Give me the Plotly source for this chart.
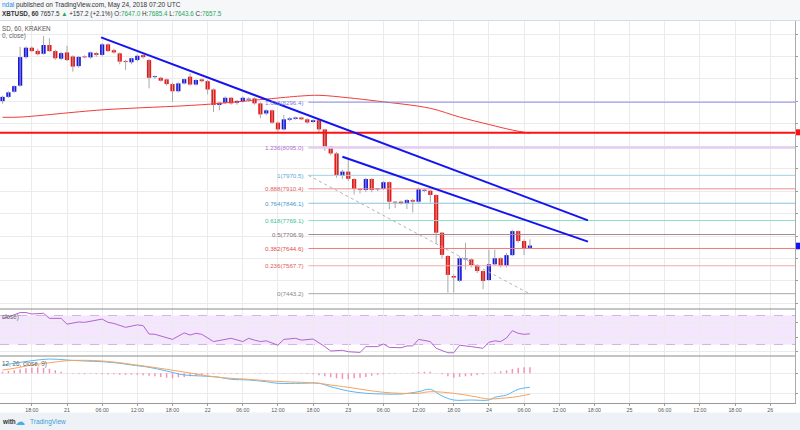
import plotly.graph_objects as go
from plotly.subplots import make_subplots
import pandas as pd

# ---------------- data ----------------
start_time = "2018-05-20 13:00"
opens = [8301, 8320, 8343, 8370, 8497, 8539, 8525, 8512, 8551, 8524,
         8490, 8518, 8500, 8457, 8500, 8496, 8515, 8507, 8554, 8528,
         8514, 8479, 8474, 8484, 8506, 8484, 8408, 8405, 8398, 8377,
         8345, 8380, 8410, 8375, 8398, 8390, 8353, 8284, 8294, 8316,
         8294, 8300, 8308, 8313, 8291, 8246, 8260, 8205, 8175, 8218,
         8222, 8228, 8220, 8208, 8216, 8175, 8098, 8068, 7968, 7987,
         7954, 7910, 7905, 7954, 7908, 7910, 7940, 7852, 7853, 7846,
         7860, 7853, 7902, 7902, 7883, 7715, 7611, 7522, 7501, 7596,
         7596, 7571, 7544, 7504, 7574, 7601, 7568, 7615, 7722, 7678,
         7647.0]
highs = [8325, 8345, 8372, 8543, 8545, 8545, 8535, 8591, 8581, 8530,
         8522, 8548, 8505, 8502, 8505, 8522, 8520, 8560, 8558, 8535,
         8518, 8485, 8495, 8508, 8510, 8490, 8415, 8410, 8402, 8382,
         8385, 8402, 8425, 8400, 8402, 8395, 8358, 8298, 8322, 8320,
         8306, 8322, 8318, 8318, 8296, 8265, 8264, 8210, 8240, 8230,
         8232, 8232, 8225, 8220, 8220, 8178, 8102, 8075, 7995, 8045,
         7958, 7915, 7960, 7958, 7915, 7945, 7944, 7856, 7858, 7865,
         7865, 7915, 7912, 7906, 7886, 7718, 7615, 7530, 7610, 7670,
         7600, 7575, 7548, 7640, 7640, 7605, 7625, 7728, 7725, 7685,
         7685.4]
lows = [8290, 8315, 8338, 8365, 8490, 8520, 8505, 8508, 8520, 8485,
        8483, 8480, 8432, 8450, 8492, 8490, 8498, 8500, 8520, 8512,
        8465, 8440, 8465, 8478, 8490, 8358, 8400, 8388, 8370, 8298,
        8340, 8375, 8370, 8370, 8385, 8331, 8252, 8260, 8288, 8285,
        8285, 8295, 8300, 8285, 8225, 8238, 8200, 8165, 8170, 8212,
        8218, 8216, 8200, 8203, 8160, 8080, 8060, 7960, 7955, 7945,
        7885, 7890, 7895, 7895, 7900, 7905, 7820, 7825, 7840, 7820,
        7805, 7848, 7895, 7850, 7665, 7600, 7448, 7448, 7495, 7550,
        7560, 7535, 7463, 7500, 7570, 7560, 7560, 7610, 7670, 7615,
        7643.6]
closes = [8320, 8340, 8368, 8497, 8539, 8524, 8510, 8551, 8524, 8492,
          8515, 8484, 8455, 8498, 8496, 8518, 8507, 8554, 8524, 8518,
          8477, 8475, 8492, 8503, 8497, 8405, 8411, 8392, 8377, 8345,
          8380, 8399, 8375, 8395, 8390, 8353, 8284, 8294, 8316, 8291,
          8302, 8316, 8310, 8291, 8242, 8260, 8205, 8175, 8220, 8224,
          8228, 8220, 8206, 8216, 8175, 8098, 8068, 7972, 7987, 7955,
          7910, 7906, 7954, 7905, 7910, 7940, 7853, 7849, 7846, 7860,
          7853, 7908, 7905, 7883, 7715, 7616, 7527, 7515, 7601, 7598,
          7571, 7544, 7500, 7574, 7601, 7568, 7615, 7722, 7678, 7645,
          7657.5]

# moving average (candle index, value)
ma_idx = [0, 3, 17, 34, 45, 51, 54, 59, 64, 73, 78, 83, 87, 90]
ma_val = [8229, 8230, 8262, 8285, 8310, 8324, 8327, 8316, 8301, 8269, 8230, 8197, 8172, 8158]

# horizontal resistance line
resistance_level = [8160]

# trend lines (drawings)
trend_long_t = ["2018-05-21 05:49", "2018-05-24 16:54"]
trend_long_p = [8585, 7770]
trend_short_t = ["2018-05-22 23:00", "2018-05-24 16:54"]
trend_short_p = [8053, 7675]
fib_anchor_t = ["2018-05-22 17:12", "2018-05-24 06:54"]
fib_anchor_p = [7970.5, 7443.2]

# fibonacci levels
fib_ratio = ["1.618", "1.236", "1", "0.888", "0.764", "0.618", "0.5", "0.382", "0.236", "0"]
fib_price = [8296.4, 8095.0, 7970.5, 7910.4, 7846.1, 7769.1, 7706.9, 7644.6, 7567.7, 7443.2]
fib_line_color = ["#8c8ce8", "#e4ccf2", "#a8cfe2", "#f28c8c", "#8cc4dc", "#8fe0c2",
                  "#a88898", "#f27a7a", "#f5abab", "#a8a8a8"]
fib_text_color = ["#7b7bd9", "#b070d0", "#5fa8d3", "#e05c5c", "#4a9bc6", "#3cbf90",
                  "#8a6a7a", "#e05050", "#e05c5c", "#888888"]
fib_line_width = [1, 2.5, 1, 1, 1, 1, 1, 1, 1, 1]

# RSI (candle index, value)
rsi_idx = [0, 1, 3, 4, 5, 7, 8, 10, 11, 13, 14, 15, 17, 18, 19, 21, 23, 24, 25, 26,
           29, 31, 32, 33, 34, 36, 38, 39, 41, 42, 43, 44, 45, 47, 48, 50, 51, 53,
           55, 56, 58, 59, 61, 62, 64, 65, 66, 68, 69, 70, 71, 73, 74, 76, 77, 78,
           80, 82, 83, 84, 85, 86, 87, 88, 89, 90]
rsi_val = [66, 68, 74, 74, 72, 73, 66, 66, 58, 61, 60.5, 62, 65, 60.5, 59, 53.6, 57, 56, 44.4, 44,
           37, 46, 43, 45.4, 44, 34, 37, 38.5, 34, 38.5, 36, 34, 35, 29, 37, 38.5, 36, 37.5,
           27, 21, 22, 20, 19, 27, 27, 30.6, 26, 25.5, 28, 28, 37, 34, 24.7, 18.6, 18.6, 29,
           27, 24.7, 33, 35, 34, 39, 49, 45.4, 44, 44.7]

# MACD (candle index, value)
macd_idx = [0, 2, 5, 8, 11, 14, 17, 20, 22, 25, 28, 31, 34, 37, 39, 42, 45, 47, 51, 54,
            56, 59, 62, 65, 68, 71, 73, 75, 77, 80, 83, 84, 86, 88, 90]
macd_val = [41.5, 50, 63, 71.5, 66.5, 61.5, 58, 50, 41.5, 30, 11.5, -8.5, -13.5, -20, -30, -33.5,
            -42, -50, -50, -50, -67, -88.5, -100, -103.5, -103.5, -92, -80, -113.5, -133.5,
            -133.5, -133.5, -120, -108.5, -80, -70]
signal_idx = [0, 2, 5, 8, 11, 14, 17, 20, 22, 25, 28, 31, 34, 37, 39, 42, 45, 48, 51, 54,
              56, 59, 62, 65, 68, 71, 73, 77, 80, 83, 85, 87, 90]
signal_val = [16.5, 25, 41.5, 53, 63, 65, 61.5, 53, 45, 33, 20, 6.5, -8.5, -20, -25, -30, -37,
              -42, -45, -50, -58.5, -70, -83.5, -95, -100, -100, -92, -100, -113.5, -128.5,
              -125, -120, -105]
hist_val = [8, 12, 15, 20, 25, 28, 30, 27, 22, 15,
            8, 2, -2, -4, -5, -3, -4, -5, -6, -5,
            -7, -8, -7, -8, -10, -12, -15, -18, -22, -25,
            -20, -18, -15, -13, -10, -6, -4, -3, -2, -2,
            -3, -2, -1, -2, -3, -2, -1, 0, 1, 0,
            -1, -2, -3, -5, -10, -15, -20, -25, -28, -30,
            -25, -22, -18, -12, -8, -5, -3, -2, -1, 1,
            3, 6, 8, 8, 2, -5, -15, -22, -18, -15,
            -12, -8, -5, 0, 5, 10, 15, 22, 28, 30,
            30]

# time axis ticks
tick_times = pd.date_range("2018-05-20 18:00", "2018-05-26 00:00", freq="6h")
tick_text = [t.strftime("%d").lstrip("0") if t.hour == 0 else t.strftime("%H:%M") for t in tick_times]
x_range = ["2018-05-20 12:34", "2018-05-26 04:14"]

# ---------------- figure ----------------
times = pd.date_range(start_time, periods=len(opens), freq="h")
UP, DN = "#1818e6", "#ee1515"
FONT = "Arial, Liberation Sans, sans-serif"

fig = make_subplots(rows=3, cols=1, shared_xaxes=True, vertical_spacing=0,
                    row_heights=[288, 47, 47])

# wicks
wx, wy = [], []
for t, h, l in zip(times, highs, lows):
    wx += [t, t, None]
    wy += [l, h, None]
fig.add_trace(go.Scatter(x=wx, y=wy, mode="lines", line=dict(color="#a9a9a9", width=1),
                         hoverinfo="skip"), row=1, col=1)
# bodies
body_base = [min(o, c) for o, c in zip(opens, closes)]
body_h = [max(abs(c - o), 4) for o, c in zip(opens, closes)]
body_col = [UP if c >= o else DN for o, c in zip(opens, closes)]
fig.add_trace(go.Bar(x=times, y=body_h, base=body_base, marker=dict(color=body_col, line=dict(width=0)),
                     width=2.6e6), row=1, col=1)

# MA
fig.add_trace(go.Scatter(x=[times[i] for i in ma_idx], y=ma_val, mode="lines",
                         line=dict(color="#f23b3b", width=1), line_shape="spline"), row=1, col=1)

# fib lines
for p, c, w in zip(fib_price, fib_line_color, fib_line_width):
    fig.add_trace(go.Scatter(x=[fib_anchor_t[0], "2018-05-27 00:00"], y=[p, p], mode="lines",
                             line=dict(color=c, width=w)), row=1, col=1)
# fib diagonal
fig.add_trace(go.Scatter(x=fib_anchor_t, y=fib_anchor_p, mode="lines",
                         line=dict(color="#b4b4b4", width=1, dash="dot")), row=1, col=1)
# resistance
fig.add_trace(go.Scatter(x=["2018-05-20 00:00", "2018-05-27 00:00"], y=resistance_level * 2, mode="lines",
                         line=dict(color="#ff1010", width=2)), row=1, col=1)
# trend lines
fig.add_trace(go.Scatter(x=trend_long_t, y=trend_long_p, mode="lines",
                         line=dict(color="#1414f0", width=2)), row=1, col=1)
fig.add_trace(go.Scatter(x=trend_short_t, y=trend_short_p, mode="lines",
                         line=dict(color="#1414f0", width=2)), row=1, col=1)

# RSI
fig.add_trace(go.Scatter(x=[times[i] for i in rsi_idx], y=rsi_val, mode="lines",
                         line=dict(color="#b463d2", width=1)), row=2, col=1)
# MACD
fig.add_trace(go.Bar(x=times, y=hist_val, marker=dict(color="#f58fb5", line=dict(width=0)),
                     width=9e5), row=3, col=1)
fig.add_trace(go.Scatter(x=[times[i] for i in macd_idx], y=macd_val, mode="lines",
                         line=dict(color="#5ab8f2", width=1), line_shape="spline"), row=3, col=1)
fig.add_trace(go.Scatter(x=[times[i] for i in signal_idx], y=signal_val, mode="lines",
                         line=dict(color="#f9a35e", width=1), line_shape="spline"), row=3, col=1)

grid = "#ebebeb"
fig.update_xaxes(range=x_range, tickvals=tick_times, ticktext=tick_text, showgrid=True,
                 gridcolor=grid, zeroline=False, showticklabels=False)
fig.update_xaxes(showticklabels=True, ticks="outside", ticklen=2, tickcolor="#999",
                 tickfont=dict(size=5.3, color="#555", family=FONT), showline=True,
                 linecolor="#999", row=3, col=1)
ycommon = dict(side="right", showgrid=True, gridcolor=grid, zeroline=False, ticks="outside",
               ticklen=2, tickcolor="#999", showticklabels=False,
               showline=True, linecolor="#aaa")
fig.update_yaxes(range=[7375, 8658], dtick=100, tick0=0, row=1, col=1, **ycommon)
fig.update_yaxes(range=[14.1, 78.9], dtick=20, tick0=0, row=2, col=1, **ycommon)
fig.update_yaxes(range=[-148.5, 86.5], dtick=100, tick0=0, row=3, col=1, **ycommon)

W, TOP, BOT = 795.0, 21.0, 403.0
H = BOT - TOP
def px(x):
    return x / W
def py(y):
    return (BOT - y) / H

shapes = []
# header & footer bands
shapes.append(dict(type="rect", xref="paper", yref="paper", x0=-0.01, x1=1.02, y0=py(20.5), y1=py(-1),
                   fillcolor="#f6f7f9", line=dict(width=0), layer="below"))
shapes.append(dict(type="line", xref="paper", yref="paper", x0=-0.01, x1=1.02, y0=py(20.5), y1=py(20.5),
                   line=dict(color="#d8dbe0", width=1)))
shapes.append(dict(type="rect", xref="paper", yref="paper", x0=-0.01, x1=1.02, y0=py(412.5), y1=py(431),
                   fillcolor="#eef1f5", line=dict(width=0), layer="below"))
# RSI band
shapes.append(dict(type="rect", xref="x2 domain", yref="y2", x0=0, x1=1, y0=30, y1=70,
                   fillcolor="#f3e6fd", line=dict(width=0), layer="below"))
for lv in (30, 70):
    shapes.append(dict(type="line", xref="x2 domain", yref="y2", x0=0, x1=1, y0=lv, y1=lv,
                       line=dict(color="#cdb6de", width=1, dash="dash"), layer="below"))
# pane separators
for yy in (309, 356):
    shapes.append(dict(type="line", xref="paper", yref="paper", x0=0, x1=1, y0=py(yy), y1=py(yy),
                       line=dict(color="#8a8a8a", width=1)))
# right-axis price markers
shapes.append(dict(type="rect", xref="paper", yref="paper", x0=px(796), x1=px(801),
                   y0=py(135.3), y1=py(129.3), fillcolor="#ff1010", line=dict(width=0)))
shapes.append(dict(type="rect", xref="paper", yref="paper", x0=px(796), x1=px(801),
                   y0=py(249.3), y1=py(242.7), fillcolor="#1414f0", line=dict(width=0)))

def ann(text, x, y, size=6, color="#444", anchor="left"):
    return dict(text=text, x=px(x), y=py(y), xref="paper", yref="paper", xanchor=anchor,
                yanchor="middle", showarrow=False, font=dict(size=size, color=color, family=FONT))

anns = []
anns.append(ann("<span style='color:#2a8be0'>ndal</span> published on TradingView.com, May 24, 2018 07:20 UTC",
                0, 5.2, 6.5, "#333"))
anns.append(ann("<b>XBTUSD, 60</b> 7657.5 <span style='color:#26a65b'>▲</span> +157.2 (+2.1%) "
                "O:<span style='color:#26a65b'>7647.0</span> H:<span style='color:#26a65b'>7685.4</span> "
                "L:<span style='color:#26a65b'>7643.6</span> C:<span style='color:#26a65b'>7657.5</span>",
                0, 14, 6.3, "#333"))
anns.append(ann("SD, 60, KRAKEN", 0, 28.3, 6.3, "#555"))
anns.append(ann("0, close)", 0, 36, 6.3, "#666"))
anns.append(ann("close)", 0, 316.7, 6.3, "#666"))
anns.append(ann("12, 26, close, 9)", 0, 364, 6.3, "#666"))
anns.append(ann("<b>with</b>", 0, 421.7, 6.3, "#333"))
anns.append(ann("☁", 13, 421.5, 10, "#4aaee0"))
anns.append(ann("TradingView", 28, 421.7, 6.5, "#3a9fd8"))
for r, p, c in zip(fib_ratio, fib_price, fib_text_color):
    anns.append(dict(text=f"{r}({p:.1f})", x=fib_anchor_t[0], y=p, xref="x", yref="y",
                     xanchor="right", yanchor="middle", xshift=-2.5, showarrow=False,
                     font=dict(size=6.2, color=c, family=FONT)))

fig.update_layout(width=800, height=430, margin=dict(l=0, r=5, t=21, b=27, autoexpand=False),
                  paper_bgcolor="white", plot_bgcolor="white", showlegend=False,
                  barmode="overlay", shapes=shapes, annotations=anns, hovermode=False)

fig.write_html("out.html", config={"displayModeBar": False, "staticPlot": True},
               post_script="document.body.style.margin='0';document.body.style.overflow='hidden';")
